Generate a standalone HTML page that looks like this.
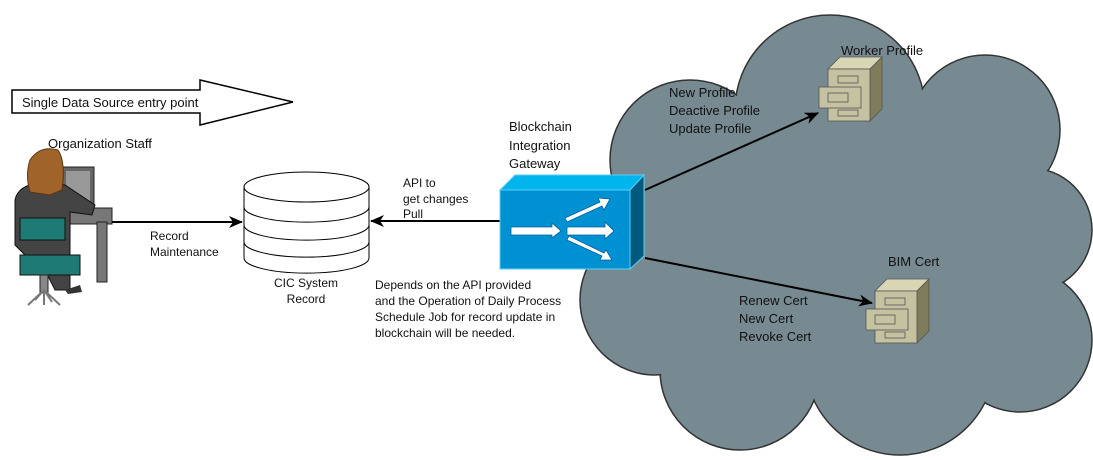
<!DOCTYPE html>
<html><head><meta charset="utf-8"><style>
html,body{margin:0;padding:0;background:#fff;}
svg{display:block;}
text{font-family:"Liberation Sans",sans-serif;font-size:13px;fill:#111;}
</style></head><body>
<svg width="1093" height="460" viewBox="0 0 1093 460" xmlns="http://www.w3.org/2000/svg">
<defs>
<marker id="ah2" markerWidth="14" markerHeight="12" refX="13" refY="6" orient="auto" markerUnits="userSpaceOnUse"><path d="M0,0 L14,6 L0,12 L4,6 Z" fill="#000"/></marker>
<g id="cab">
<polygon points="0,12 12,0 54,0 42,12" fill="#d8d6b4" stroke="#555" stroke-width="0.8"/>
<polygon points="42,12 54,0 54,52 42,64" fill="#7e7c5a" stroke="#555" stroke-width="0.8"/>
<rect x="0" y="12" width="42" height="52" fill="#c4c2a0" stroke="#555" stroke-width="0.8"/>
<rect x="10" y="19" width="20" height="7" fill="none" stroke="#555" stroke-width="0.8"/>
<rect x="10" y="53" width="20" height="6" fill="none" stroke="#555" stroke-width="0.8"/>
<rect x="-9" y="30" width="42" height="21" fill="#c4c2a0" stroke="#555" stroke-width="0.8"/>
<rect x="0" y="36" width="20" height="9" fill="none" stroke="#555" stroke-width="0.8"/>
</g>
</defs>
<!-- cloud -->
<g fill="#778a92" stroke="#333" stroke-width="1.5">
<circle cx="830" cy="110" r="95"/><circle cx="690" cy="160" r="80"/><circle cx="985" cy="130" r="75"/>
<circle cx="1030" cy="230" r="62"/><circle cx="1020" cy="340" r="72"/><circle cx="900" cy="360" r="95"/>
<circle cx="740" cy="370" r="80"/><circle cx="655" cy="300" r="75"/><circle cx="640" cy="220" r="50"/>
</g>
<g fill="#778a92">
<circle cx="830" cy="110" r="94"/><circle cx="690" cy="160" r="79"/><circle cx="985" cy="130" r="74"/>
<circle cx="1030" cy="230" r="61"/><circle cx="1020" cy="340" r="71"/><circle cx="900" cy="360" r="94"/>
<circle cx="740" cy="370" r="79"/><circle cx="655" cy="300" r="74"/><circle cx="640" cy="220" r="49"/>
<circle cx="820" cy="240" r="130"/><circle cx="930" cy="250" r="110"/><circle cx="980" cy="230" r="70"/><circle cx="960" cy="290" r="80"/>
</g>
<!-- big arrow -->
<polygon points="12,90 200,90 200,80 293,102 200,125 200,113 12,113" fill="#fff" stroke="#000" stroke-width="1.5"/>
<text x="22" y="107">Single Data Source entry point</text>
<text x="48" y="148">Organization Staff</text>
<!-- person -->
<rect x="62" y="167" width="32" height="38" fill="#666" stroke="#222"/>
<rect x="66" y="171" width="24" height="30" fill="#999"/>
<rect x="62" y="208" width="50" height="16" fill="#777" stroke="#222"/>
<rect x="97" y="222" width="10" height="60" fill="#777" stroke="#222"/>
<path d="M15,200 Q18,185 40,183 L65,185 Q80,195 95,205 L92,215 L70,212 L70,290 L55,290 L40,260 L25,255 L15,245 Z" fill="#444" stroke="#111"/>
<path d="M30,160 Q40,145 58,150 Q66,162 62,190 L50,195 L30,192 Q25,175 30,160 Z" fill="#a0642a" stroke="#5a3510"/>
<rect x="20" y="218" width="45" height="22" fill="#1e7a74" stroke="#111"/>
<rect x="20" y="255" width="60" height="20" fill="#1e7a74" stroke="#111"/>
<rect x="40" y="275" width="8" height="18" fill="#888" stroke="#222"/>
<path d="M28,305 L44,290 L60,305 M35,300 L44,290 L52,302 M44,290 L44,305" stroke="#777" stroke-width="2" fill="none"/>
<path d="M65,290 L80,285 L82,292 L68,294 Z" fill="#333"/>
<!-- record maintenance -->
<line x1="112" y1="222" x2="242" y2="222" stroke="#000" stroke-width="2" marker-end="url(#ah2)"/>
<text x="150" y="240" style="font-size:12px">Record</text>
<text x="150" y="256" style="font-size:12px">Maintenance</text>
<!-- cylinder -->
<g fill="#fff" stroke="#000" stroke-width="1">
<path d="M244,187 L244,258 A62,15 0 0 0 369,258 L369,187"/>
<ellipse cx="306.5" cy="187" rx="62.5" ry="15"/>
<path d="M244,207 A62,15 0 0 0 369,207" fill="none"/>
<path d="M244,225 A62,15 0 0 0 369,225" fill="none"/>
<path d="M244,242 A62,15 0 0 0 369,242" fill="none"/>
</g>
<text x="306" y="287" text-anchor="middle" style="font-size:12px">CIC System</text>
<text x="306" y="303" text-anchor="middle" style="font-size:12px">Record</text>
<!-- API arrow -->
<line x1="500" y1="221" x2="371" y2="221" stroke="#000" stroke-width="2" marker-end="url(#ah2)"/>
<text x="403" y="187" style="font-size:12px">API to</text>
<text x="403" y="203" style="font-size:12px">get changes</text>
<text x="403" y="218" style="font-size:12px">Pull</text>
<text x="375" y="289" style="font-size:12px">Depends on the API provided</text>
<text x="375" y="305" style="font-size:12px">and the Operation of Daily Process</text>
<text x="375" y="321" style="font-size:12px">Schedule Job for record update in</text>
<text x="375" y="337" style="font-size:12px">blockchain will be needed.</text>
<!-- gateway -->
<text x="509" y="131">Blockchain</text>
<text x="509" y="150">Integration</text>
<text x="509" y="168">Gateway</text>
<polygon points="500,190 515,175 644,175 630,190" fill="#00b4ee" stroke="#5ad0f5"/>
<polygon points="630,190 644,175 644,256 630,269" fill="#005a80" stroke="#5ad0f5"/>
<rect x="500" y="190" width="130" height="79" fill="#0091d2" stroke="#5ad0f5"/>
<g fill="#fff" stroke="#0060a0" stroke-width="0.8">
<polygon points="511,227 552,227 552,223 561,231 552,238 552,235 511,235"/>
<polygon points="567,227 605,227 605,222 614,231 605,239 605,235 567,235"/>
<polygon points="565,218 600,202 598,198 610,199 604,210 602,206 567,222"/>
<polygon points="567,240 602,256 600,260 612,260 606,250 604,253 569,236"/>
</g>
<!-- connectors -->
<line x1="645" y1="190" x2="818" y2="113" stroke="#000" stroke-width="2" marker-end="url(#ah2)"/>
<line x1="645" y1="258" x2="872" y2="303" stroke="#000" stroke-width="2" marker-end="url(#ah2)"/>
<text x="669" y="97">New Profile</text>
<text x="669" y="115">Deactive Profile</text>
<text x="669" y="133">Update Profile</text>
<text x="739" y="305">Renew Cert</text>
<text x="739" y="323">New Cert</text>
<text x="739" y="341">Revoke Cert</text>
<text x="841" y="55">Worker Profile</text>
<text x="888" y="266">BIM Cert</text>
<use href="#cab" x="828" y="57"/>
<use href="#cab" x="875" y="279"/>
</svg>
</body></html>
